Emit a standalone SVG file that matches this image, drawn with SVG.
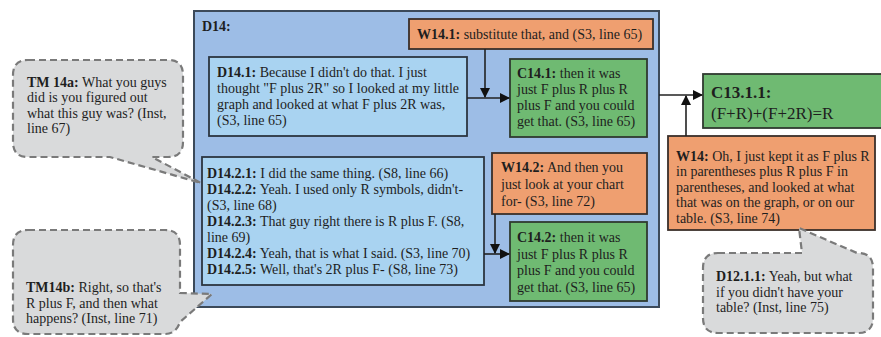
<svg xmlns="http://www.w3.org/2000/svg" width="881" height="337" viewBox="0 0 881 337">
<style>
text{font-family:"Liberation Serif","Times New Roman",serif;font-size:14px;fill:#1e1e1e}
.b{font-weight:bold}
.big{font-size:17px}
.cont{fill:#9dbde6;stroke:#3c4a5a;stroke-width:2}
.blue{fill:#a9d3f1;stroke:#2c3540;stroke-width:1.8}
.org{fill:#ef9f70;stroke:#3a2f2a;stroke-width:1.8}
.grn{fill:#6fba72;stroke:#2f3a30;stroke-width:1.8}
.bub{fill:#d9dadb;stroke:#7a7a7a;stroke-width:2.2;stroke-dasharray:7 4}
.con{stroke:#222;stroke-width:1.6;fill:none}
</style>
<defs>
<marker id="ah" markerWidth="10" markerHeight="10" refX="9" refY="5" orient="auto" markerUnits="userSpaceOnUse">
<path d="M0,0 L10,5 L0,10 Z" fill="#111"/>
</marker>
</defs>

<g id="D14">
<rect class="cont" x="194" y="11" width="465" height="296"/>
<text class="b" x="202" y="31">D14:</text>
</g>

<g id="W14.1">
<rect class="org" x="409" y="19" width="244" height="30"/>
<text x="417" y="39"><tspan class="b">W14.1:</tspan> substitute that, and (S3, line 65)</text>
</g>

<g id="D14.1">
<rect class="blue" x="209" y="57" width="258" height="79"/>
<text x="217" y="77"><tspan class="b">D14.1:</tspan> Because I didn't do that. I just</text>
<text x="217" y="93">thought "F plus 2R" so I looked at my little</text>
<text x="217" y="109">graph and looked at what F plus 2R was,</text>
<text x="217" y="125">(S3, line 65)</text>
</g>

<g id="C14.1">
<rect class="grn" x="510" y="59" width="137" height="78"/>
<text x="517" y="78"><tspan class="b">C14.1:</tspan> then it was</text>
<text x="517" y="94">just F plus R plus R</text>
<text x="517" y="110">plus F and you could</text>
<text x="517" y="126">get that. (S3, line 65)</text>
</g>

<g id="D14.2">
<rect class="blue" x="202" y="157" width="282" height="128"/>
<text x="207" y="178"><tspan class="b">D14.2.1:</tspan> I did the same thing. (S8, line 66)</text>
<text x="207" y="194"><tspan class="b">D14.2.2:</tspan> Yeah. I used only R symbols, didn't-</text>
<text x="207" y="210">(S3, line 68)</text>
<text x="207" y="226"><tspan class="b">D14.2.3:</tspan> That guy right there is R plus F. (S8,</text>
<text x="207" y="242">line 69)</text>
<text x="207" y="258"><tspan class="b">D14.2.4:</tspan> Yeah, that is what I said. (S3, line 70)</text>
<text x="207" y="274"><tspan class="b">D14.2.5:</tspan> Well, that's 2R plus F- (S8, line 73)</text>
</g>

<g id="W14.2">
<rect class="org" x="492" y="153" width="155" height="61"/>
<text x="501" y="172"><tspan class="b">W14.2:</tspan> And then you</text>
<text x="501" y="189">just look at your chart</text>
<text x="501" y="206">for- (S3, line 72)</text>
</g>

<g id="C14.2">
<rect class="grn" x="510" y="222" width="137" height="79"/>
<text x="517" y="242"><tspan class="b">C14.2:</tspan> then it was</text>
<text x="517" y="259">just F plus R plus R</text>
<text x="517" y="275">plus F and you could</text>
<text x="517" y="292">get that. (S3, line 65)</text>
</g>

<g id="C13.1.1">
<rect class="grn" x="703" y="74" width="185" height="54"/>
<text class="b big" x="711" y="98">C13.1.1:</text>
<text class="big" x="711" y="119">(F+R)+(F+2R)=R</text>
</g>

<g id="W14">
<rect class="org" x="668" y="136" width="207" height="94"/>
<text x="676" y="161"><tspan class="b">W14:</tspan> Oh, I just kept it as F plus R</text>
<text x="676" y="176">in parentheses plus R plus F in</text>
<text x="676" y="192">parentheses, and looked at what</text>
<text x="676" y="207">that was on the graph, or on our</text>
<text x="676" y="223">table. (S3, line 74)</text>
</g>

<g id="connectors">
<line class="con" x1="467" y1="98" x2="509" y2="98" marker-end="url(#ah)"/>
<line class="con" x1="485" y1="49" x2="485" y2="97" marker-end="url(#ah)"/>
<line class="con" x1="659" y1="95" x2="702" y2="95" marker-end="url(#ah)"/>
<line class="con" x1="686" y1="136" x2="686" y2="96" marker-end="url(#ah)"/>
<line class="con" x1="484" y1="254" x2="509" y2="254" marker-end="url(#ah)"/>
<line class="con" x1="495" y1="214" x2="495" y2="253" marker-end="url(#ah)"/>
</g>

<g id="TM14a">
<path class="bub" d="M28 60 H168 Q183 60 183 75 V142 Q183 157 168 157 H152 L201 183 L110 157 H28 Q13 157 13 142 V75 Q13 60 28 60 Z"/>
<text x="27" y="87"><tspan class="b">TM 14a:</tspan> What you guys</text>
<text x="27" y="102">did is you figured out</text>
<text x="27" y="118">what this guy was? (Inst,</text>
<text x="27" y="133">line 67)</text>
</g>

<g id="TM14b">
<path class="bub" d="M28 230 H165 Q180 230 180 245 V293 L212 294 L180 322 Q176 334 165 334 H28 Q13 334 13 319 V245 Q13 230 28 230 Z"/>
<text x="26" y="292"><tspan class="b">TM14b:</tspan> Right, so that's</text>
<text x="26" y="308">R plus F, and then what</text>
<text x="26" y="323">happens? (Inst, line 71)</text>
</g>

<g id="D12.1.1">
<path class="bub" d="M718 253 H802 L799 228 L857 253 H858 Q873 253 873 268 V318 Q873 333 858 333 H718 Q703 333 703 318 V268 Q703 253 718 253 Z"/>
<text x="716" y="281"><tspan class="b">D12.1.1:</tspan> Yeah, but what</text>
<text x="716" y="297">if you didn't have your</text>
<text x="716" y="312">table? (Inst, line 75)</text>
</g>
</svg>
